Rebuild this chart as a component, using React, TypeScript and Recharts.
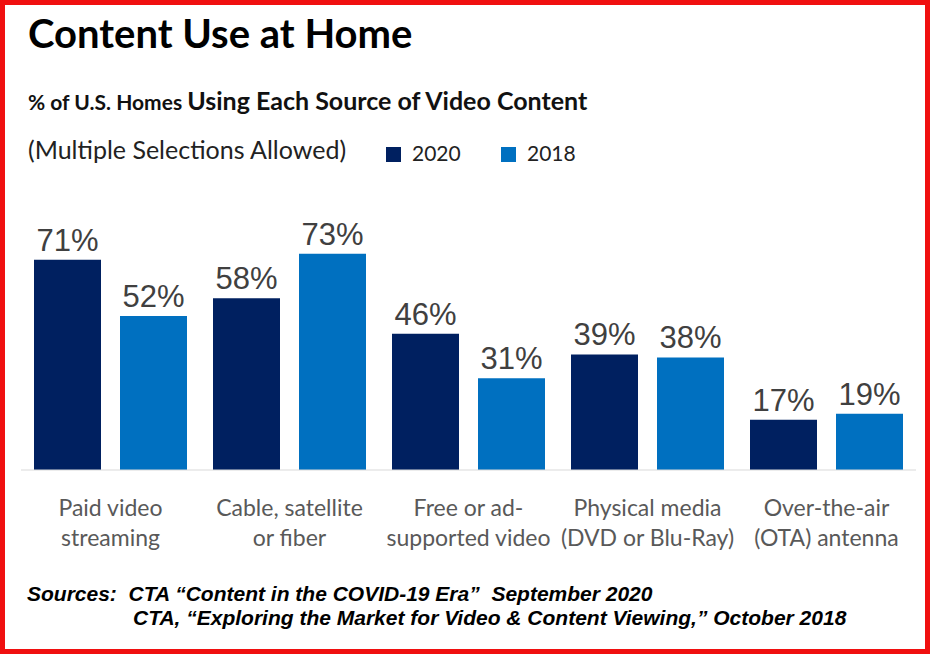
import { BarChart, Bar, XAxis, YAxis, LabelList } from "recharts";

const categories = [
  "Paid video\nstreaming",
  "Cable, satellite\nor fiber",
  "Free or ad-\nsupported video",
  "Physical media\n(DVD or Blu-Ray)",
  "Over-the-air\n(OTA) antenna",
];
const share2020 = [71, 58, 46, 39, 17];
const share2018 = [52, 73, 31, 38, 19];
const seriesNames = ["2020", "2018"];

const DARK = "#002060";
const LIGHT = "#0070C0";
const SANS = "Lato, 'Open Sans', sans-serif";
const ARIAL = "'Liberation Sans', Arial, sans-serif";

const data = categories.map((name, i) => ({
  name,
  y2020: share2020[i],
  y2018: share2018[i],
}));

function CategoryTick({ x, y, payload }: any) {
  const lines = String(payload.value).split("\n");
  return (
    <text x={x} y={y} textAnchor="middle" fill="#595959" fontFamily={SANS} fontSize={23}>
      {lines.map((line, i) => (
        <tspan key={i} x={x} dy={i === 0 ? 46 : 30}>
          {line}
        </tspan>
      ))}
    </text>
  );
}

const pct = (v: any) => `${v}%`;

export default function App() {
  return (
    <div style={{ position: "absolute", left: 0, top: 0, width: 933, height: 658, background: "#fff" }}>
      <BarChart
        width={933}
        height={560}
        data={data}
        margin={{ top: 233, right: 17, bottom: 10, left: 21 }}
        barCategoryGap={13}
        barGap={19}
      >
        <XAxis
          dataKey="name"
          interval={0}
          height={80}
          tickLine={false}
          tickSize={0}
          tickMargin={0}
          axisLine={{ stroke: "#D9D9D9" }}
          tick={<CategoryTick />}
        />
        <YAxis hide domain={[0, 80]} />
        <Bar dataKey="y2020" name={seriesNames[0]} fill={DARK} barSize={67} isAnimationActive={false}>
          <LabelList dataKey="y2020" position="top" offset={9} formatter={pct} fill="#404040" fontSize={31} fontFamily={ARIAL} />
        </Bar>
        <Bar dataKey="y2018" name={seriesNames[1]} fill={LIGHT} barSize={67} isAnimationActive={false}>
          <LabelList dataKey="y2018" position="top" offset={9} formatter={pct} fill="#404040" fontSize={31} fontFamily={ARIAL} />
        </Bar>
      </BarChart>

      <svg width={933} height={658} style={{ position: "absolute", left: 0, top: 0, pointerEvents: "none" }}>
        <text x={28} y={48} fontFamily={SANS} fontWeight={700} fontSize={40} fill="#000">
          Content Use at Home
        </text>
        <text x={28} y={110} fontFamily={SANS} fill="#111">
          <tspan fontSize={21} fontWeight={700}>% of U.S. Homes </tspan>
          <tspan fontSize={25} fontWeight={700}>Using Each Source of Video Content</tspan>
        </text>
        <text x={28} y={159} fontFamily={SANS} fontSize={25} fill="#222">
          (Multiple Selections Allowed)
        </text>
        <rect x={386} y={147} width={15} height={15} fill={DARK} />
        <text x={412} y={161} fontFamily={SANS} fontSize={21} fill="#222">{seriesNames[0]}</text>
        <rect x={501} y={147} width={15} height={15} fill={LIGHT} />
        <text x={527} y={161} fontFamily={SANS} fontSize={21} fill="#222">{seriesNames[1]}</text>

        <text x={27} y={601} fontFamily={ARIAL} fontStyle="italic" fontWeight={700} fontSize={21} fill="#000" xmlSpace="preserve">
          Sources:  CTA “Content in the COVID-19 Era”  September 2020
        </text>
        <text x={133} y={625} fontFamily={ARIAL} fontStyle="italic" fontWeight={700} fontSize={21} fill="#000">
          CTA, “Exploring the Market for Video &amp; Content Viewing,” October 2018
        </text>
      </svg>

      <div
        style={{
          position: "absolute",
          left: 0,
          top: 0,
          width: 930,
          height: 654,
          boxSizing: "border-box",
          border: "5px solid #F01010",
          pointerEvents: "none",
        }}
      />
    </div>
  );
}
